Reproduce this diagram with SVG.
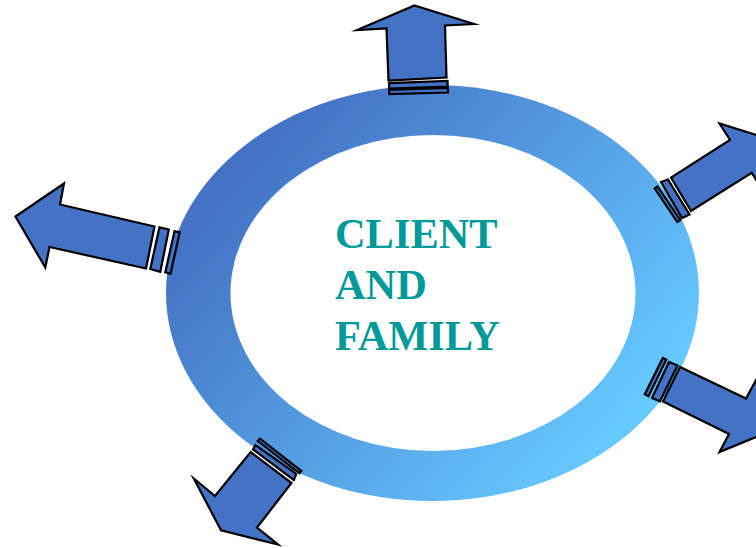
<svg xmlns="http://www.w3.org/2000/svg" width="756" height="548" viewBox="0 0 756 548">
<style>
.a{fill:#4472c4;stroke:#000;stroke-width:2.2;stroke-linejoin:miter;stroke-miterlimit:10}
.t{font-family:"Liberation Serif","Times New Roman",serif;font-weight:700;font-size:42.4px;fill:#009999}
</style>
<defs>
<linearGradient id="g" gradientUnits="userSpaceOnUse" x1="270" y1="140" x2="610" y2="440">
<stop offset="0" stop-color="#4472c4"/>
<stop offset="1" stop-color="#66c9ff"/>
</linearGradient>
</defs>
<rect width="756" height="548" fill="#fff"/>
<g id="ring">
<ellipse cx="432.5" cy="293" rx="266.5" ry="208" fill="url(#g)"/>
<ellipse cx="433" cy="293" rx="202.5" ry="158" fill="#fff"/>
</g>
<g id="connectors">
<g id="arrow-top">
<polygon class="a" points="414.5,5.5 474,24 445,25.5 446.5,77.5 388.5,80.5 386.5,28.5 357,30"/>
<polygon class="a" points="389,83.2 447.5,80.8 447.7,86.5 389.2,88.7"/>
<polygon class="a" points="389.2,90 447.8,88 448,92.5 389.4,94"/>
</g>
<g id="arrow-upper-right">
<polygon class="a" points="769,139 719.5,123.5 730,140 671,177.5 691,211 751.7,172.7 763,191"/>
<polygon class="a" points="661,182 668,179.5 689.5,214.5 682,218"/>
<polygon class="a" points="654.8,188.5 657.5,186.5 680.3,220 677.3,222"/>
</g>
<g id="arrow-lower-right">
<polygon class="a" points="768,432 756,380 746,398.5 680,367 663,401.5 729,434 719.5,452"/>
<polygon class="a" points="652,398 669,362 677.5,365.5 660,401.3"/>
<polygon class="a" points="644.8,394.3 662.8,358 666.3,359.5 648.5,396.3"/>
</g>
<g id="arrow-lower-left">
<polygon class="a" points="278,544.5 221,530.3 193.8,478.5 215,496 250.7,452 291.5,483 257,527.5"/>
<polygon class="a" points="253,449.5 255.5,445 296.3,473.8 293.8,480"/>
<polygon class="a" points="257.7,441 260,438.7 301.3,471 299.5,473.3"/>
</g>
<g id="arrow-left">
<polygon class="a" points="15.5,216.5 64,183.5 60,204.5 154.5,226.5 146,268.5 49.5,247 45.3,267.5"/>
<polygon class="a" points="159.5,227.2 168.8,229.5 160.3,271.8 150.3,269"/>
<polygon class="a" points="174.5,231.2 179.7,232.3 170.5,273.8 165.3,272.2"/>
</g>
</g>
<g id="label">
<text class="t" x="335" y="248">CLIENT</text>
<text class="t" x="335" y="299">AND</text>
<text class="t" x="335" y="350">FAMILY</text>
</g>
</svg>
